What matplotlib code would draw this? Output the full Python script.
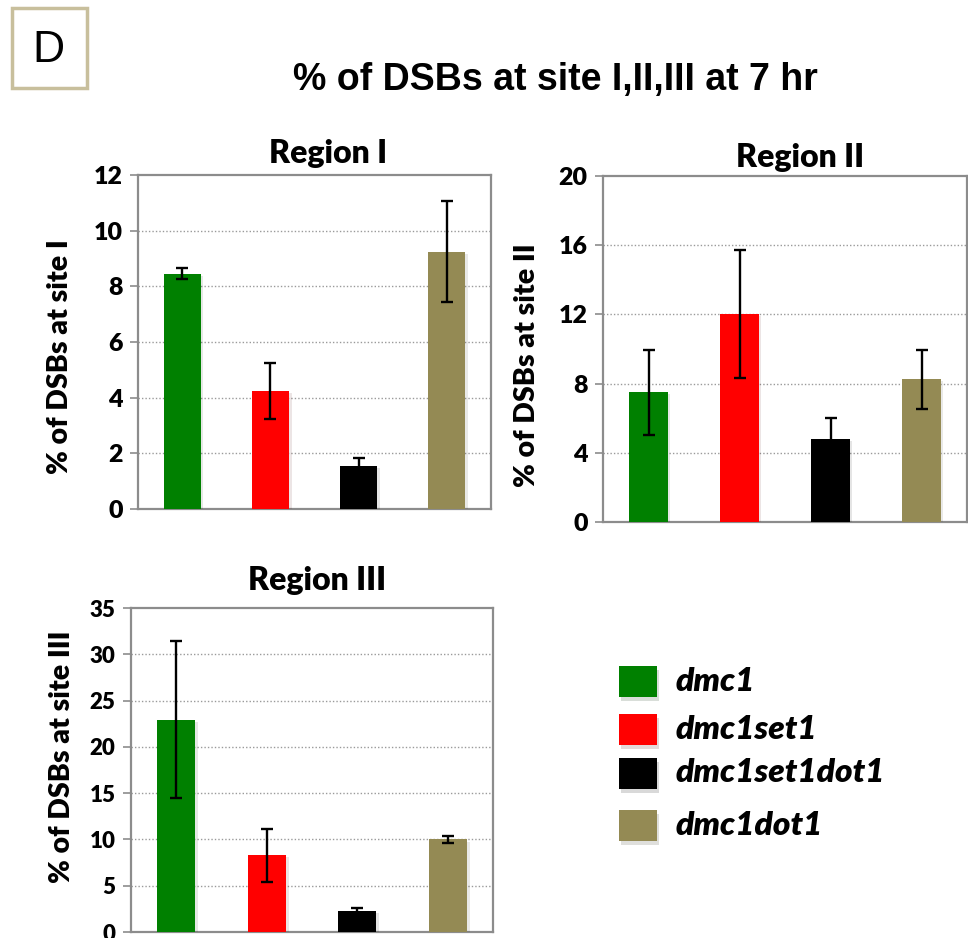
import matplotlib.pyplot as plt
from matplotlib import patheffects as pe
from matplotlib.patches import Rectangle

# strains, same order in every panel
strains = ["dmc1", "dmc1set1", "dmc1set1dot1", "dmc1dot1"]
colors = ["#008000", "#ff0000", "#000000", "#948a54"]

# % of DSBs at each site (7 hr), with error bars
site1 = [8.45, 4.25, 1.55, 9.25]
site1_err = [0.2, 1.0, 0.3, 1.8]
site2 = [7.5, 12.0, 4.8, 8.25]
site2_err = [2.45, 3.7, 1.2, 1.7]
site3 = [22.95, 8.3, 2.25, 10.0]
site3_err = [8.45, 2.85, 0.35, 0.35]

W, H = 968, 938
fig = plt.figure(figsize=(W / 100, H / 100), dpi=100)

calibri = "Lato"
arial = "Liberation Sans"


def panel(rect, vals, errs, ymax, step, title, title_xy, ylabel, ylabel_xy, tick_size=18):
    ax = fig.add_axes(rect)
    x = range(len(vals))
    shadow = [pe.SimplePatchShadow(offset=(2, -1.5), alpha=0.1), pe.Normal()]
    bars = ax.bar(x, vals, width=0.42, color=colors, zorder=3)
    for b in bars:
        b.set_path_effects(shadow)
    ax.errorbar(x, vals, yerr=errs, fmt="none", ecolor="black", elinewidth=1.7,
                capsize=4.5, capthick=1.7, zorder=4)
    ax.set_xlim(-0.5, 3.5)
    ax.set_ylim(0, ymax)
    ticks = list(range(0, ymax + 1, step))
    ax.set_yticks(ticks)
    ax.set_xticks([])
    for t in ticks[1:-1]:
        ax.axhline(t, color="#9a9a9a", lw=1.0, ls=(0, (1, 1.5)), zorder=1)
    for s in ax.spines.values():
        s.set_color("#8c8c8c")
        s.set_linewidth(1.6)
    ax.tick_params(axis="y", length=6, width=1.2, color="#8c8c8c", pad=5)
    for lab in ax.get_yticklabels():
        lab.set_fontfamily(calibri)
        lab.set_fontweight("heavy")
        lab.set_fontsize(tick_size)
    fig.text(title_xy[0] / W, 1 - title_xy[1] / H, title, ha="center", va="center",
             fontfamily=calibri, fontweight="heavy", fontsize=23)
    fig.text(ylabel_xy[0] / W, 1 - ylabel_xy[1] / H, ylabel, ha="center", va="center",
             rotation=90, fontfamily=calibri, fontweight="heavy", fontsize=20.5)
    return ax


panel([138 / W, 1 - 509 / H, 353 / W, 334 / H], site1, site1_err, 12, 2,
      "Region I", (328, 153), "% of DSBs at site I", (60, 357))
panel([603 / W, 1 - 522 / H, 364 / W, 346 / H], site2, site2_err, 20, 4,
      "Region II", (800, 157), "% of DSBs at site II", (527, 365))
panel([131 / W, 1 - 932 / H, 362 / W, 324 / H], site3, site3_err, 35, 5,
      "Region III", (317, 580), "% of DSBs at site III", (62, 757), tick_size=16)

# main title and panel letter
fig.text(555 / W, 1 - 80 / H, "% of DSBs at site I,II,III at 7 hr", ha="center",
         va="center", fontfamily=arial, fontweight="bold", fontsize=27)
fig.patches.append(Rectangle((12 / W, 1 - 88 / H), 75 / W, 80 / H, transform=fig.transFigure,
                             fill=False, edgecolor="#c8bf9c", linewidth=2.5))
fig.text(48 / W, 1 - 50 / H, "D", ha="center", va="center", fontfamily=arial, fontsize=32)

# legend built from the strain list
rows = [681, 729, 773, 825]
for name, c, yc in zip(strains, colors, rows):
    r = Rectangle((619 / W, 1 - (yc + 16) / H), 38 / W, 31 / H, transform=fig.transFigure,
                  facecolor=c, edgecolor="none")
    r.set_path_effects([pe.SimplePatchShadow(offset=(1.5, -3), alpha=0.15), pe.Normal()])
    fig.patches.append(r)
    fig.text(676 / W, 1 - yc / H, name, ha="left", va="center", fontfamily=calibri,
             fontweight="heavy", fontstyle="italic", fontsize=24)

fig.savefig("out.png", dpi=100)
